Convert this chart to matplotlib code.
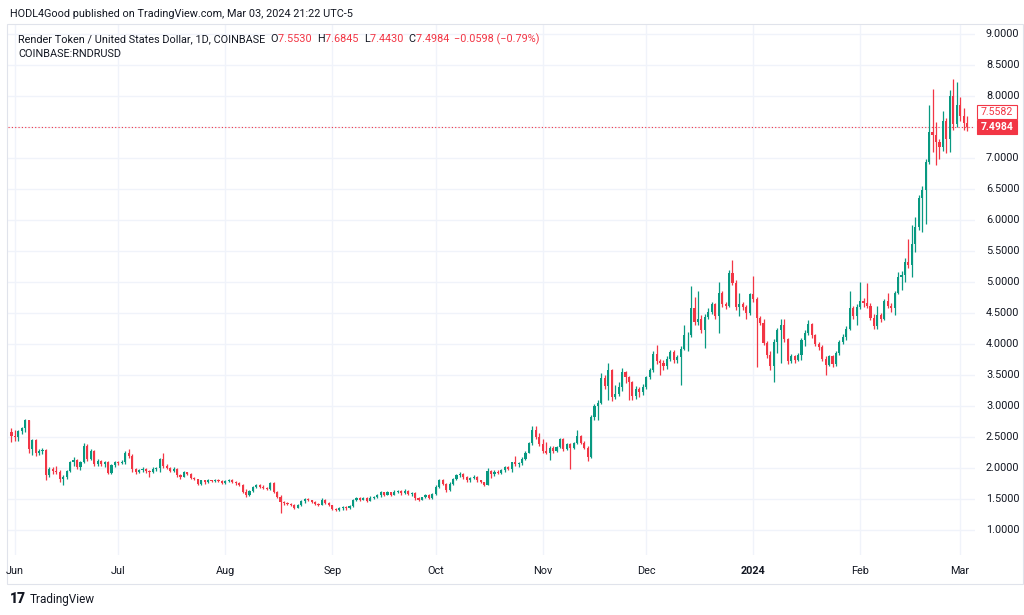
import matplotlib
matplotlib.use("Agg")
import matplotlib.pyplot as plt
from matplotlib.patches import Rectangle

plt.rcParams['font.family'] = ['Roboto', 'DejaVu Sans']

# daily RNDR/USD candles, May 31 2023 -> Mar 03 2024 (opens = previous close)
first_open = 2.58
closes = [
    2.52, 2.50, 2.59, 2.64, 2.77, 2.30, 2.45, 2.24, 2.28, 2.29,
    1.88, 1.98, 1.95, 1.93, 1.82, 1.85, 1.95, 2.10, 2.13, 2.02,
    2.10, 2.36, 2.15, 2.28, 2.06, 2.12, 2.07, 2.10, 1.92, 2.05,
    2.10, 2.08, 2.10, 2.24, 2.20, 1.98, 1.94, 1.96, 1.99, 1.95,
    1.94, 1.99, 2.00, 2.14, 2.03, 2.00, 1.95, 1.99, 1.88, 1.86,
    1.93, 1.91, 1.84, 1.82, 1.74, 1.80, 1.77, 1.80, 1.79, 1.81,
    1.79, 1.76, 1.79, 1.81, 1.78, 1.76, 1.73, 1.62, 1.56, 1.63,
    1.69, 1.72, 1.70, 1.68, 1.66, 1.76, 1.61, 1.54, 1.45, 1.43,
    1.42, 1.41, 1.36, 1.40, 1.46, 1.50, 1.48, 1.45, 1.42, 1.41,
    1.49, 1.44, 1.40, 1.34, 1.32, 1.35, 1.37, 1.35, 1.38, 1.48,
    1.51, 1.49, 1.51, 1.47, 1.52, 1.53, 1.56, 1.61, 1.57, 1.61,
    1.57, 1.62, 1.63, 1.59, 1.63, 1.58, 1.60, 1.51, 1.49, 1.53,
    1.56, 1.52, 1.58, 1.70, 1.80, 1.74, 1.65, 1.75, 1.82, 1.88,
    1.90, 1.85, 1.80, 1.84, 1.86, 1.80, 1.77, 1.73, 1.95, 1.90,
    1.94, 1.92, 1.96, 2.02, 1.99, 2.09, 2.06, 2.08, 2.15, 2.25,
    2.40, 2.62, 2.50, 2.38, 2.27, 2.25, 2.32, 2.28, 2.34, 2.46,
    2.31, 2.38, 2.32, 2.40, 2.52, 2.41, 2.33, 2.17, 2.82, 3.00,
    3.05, 3.45, 3.32, 3.58, 3.15, 3.20, 3.30, 3.55, 3.46, 3.38,
    3.16, 3.28, 3.22, 3.31, 3.47, 3.58, 3.84, 3.73, 3.70, 3.64,
    3.76, 3.87, 3.74, 3.79, 3.92, 4.14, 4.15, 4.58, 4.36, 4.40,
    4.22, 4.43, 4.52, 4.64, 4.45, 4.82, 4.64, 4.62, 5.15, 4.98,
    4.60, 4.64, 4.60, 4.50, 4.80, 4.72, 4.42, 4.34, 4.02, 3.83,
    3.64, 4.04, 4.22, 4.30, 4.08, 3.72, 3.80, 3.75, 3.82, 4.06,
    4.18, 4.32, 4.14, 4.00, 3.95, 3.76, 3.66, 3.80, 3.68, 3.86,
    4.03, 4.12, 4.25, 4.58, 4.45, 4.60, 4.70, 4.66, 4.62, 4.42,
    4.29, 4.46, 4.41, 4.70, 4.62, 4.58, 4.82, 5.08, 5.12, 5.33,
    5.28, 5.62, 5.88, 6.35, 6.48, 6.94, 7.42, 7.37, 7.25, 7.18,
    7.60, 7.30, 8.00, 7.55, 7.85, 7.68, 7.5582, 7.4984,
]
highs = [
    2.64, 2.62, 2.61, 2.66, 2.79, 2.78, 2.47, 2.46, 2.31, 2.32,
    2.31, 2.01, 2.02, 2.04, 1.96, 1.88, 1.97, 2.12, 2.17, 2.15,
    2.12, 2.41, 2.38, 2.30, 2.29, 2.14, 2.13, 2.12, 2.11, 2.06,
    2.12, 2.12, 2.13, 2.27, 2.30, 2.22, 2.00, 1.99, 2.01, 2.00,
    1.97, 2.01, 2.02, 2.16, 2.24, 2.06, 2.02, 2.01, 2.00, 1.90,
    1.95, 1.94, 1.92, 1.86, 1.83, 1.81, 1.81, 1.82, 1.81, 1.83,
    1.82, 1.80, 1.81, 1.83, 1.82, 1.79, 1.77, 1.74, 1.66, 1.65,
    1.71, 1.74, 1.74, 1.72, 1.70, 1.78, 1.77, 1.63, 1.56, 1.47,
    1.45, 1.44, 1.42, 1.42, 1.48, 1.52, 1.52, 1.49, 1.46, 1.44,
    1.51, 1.50, 1.45, 1.41, 1.36, 1.37, 1.39, 1.38, 1.40, 1.50,
    1.53, 1.53, 1.53, 1.54, 1.55, 1.55, 1.58, 1.63, 1.62, 1.63,
    1.62, 1.64, 1.65, 1.65, 1.66, 1.64, 1.62, 1.61, 1.53, 1.54,
    1.58, 1.58, 1.60, 1.72, 1.83, 1.83, 1.76, 1.77, 1.84, 1.91,
    1.93, 1.92, 1.87, 1.86, 1.88, 1.87, 1.81, 1.78, 2.00, 1.97,
    1.96, 1.96, 1.98, 2.04, 2.04, 2.10, 2.19, 2.10, 2.17, 2.27,
    2.42, 2.67, 2.68, 2.56, 2.46, 2.42, 2.35, 2.35, 2.36, 2.49,
    2.49, 2.40, 2.40, 2.42, 2.62, 2.54, 2.43, 2.35, 2.86, 3.04,
    3.10, 3.53, 3.50, 3.70, 3.60, 3.34, 3.38, 3.62, 3.57, 3.49,
    3.40, 3.32, 3.30, 3.35, 3.49, 3.62, 3.89, 3.99, 3.76, 3.74,
    3.80, 3.91, 3.90, 3.82, 3.96, 4.31, 4.20, 4.93, 4.75, 4.85,
    4.46, 4.48, 4.58, 4.68, 4.66, 5.00, 4.85, 4.68, 5.19, 5.35,
    5.03, 4.82, 4.68, 4.63, 4.83, 5.09, 4.76, 4.45, 4.40, 4.05,
    3.88, 4.08, 4.26, 4.40, 4.40, 4.10, 3.84, 3.83, 3.86, 4.09,
    4.22, 4.38, 4.34, 4.16, 4.03, 3.98, 3.80, 3.83, 3.82, 3.89,
    4.06, 4.16, 4.29, 4.85, 4.62, 4.64, 5.00, 4.74, 4.98, 4.66,
    4.49, 4.62, 4.50, 4.73, 4.82, 4.66, 4.86, 5.16, 5.18, 5.38,
    5.70, 5.92, 6.05, 6.40, 6.55, 6.98, 7.85, 8.12, 7.58, 7.30,
    7.75, 7.65, 8.09, 8.28, 8.22, 7.99, 7.80, 7.6845,
]
lows = [
    2.42, 2.44, 2.44, 2.55, 2.58, 2.25, 2.21, 2.20, 2.21, 2.22,
    1.80, 1.85, 1.91, 1.90, 1.78, 1.72, 1.82, 1.93, 2.03, 1.99,
    1.97, 2.08, 2.12, 2.13, 2.03, 2.04, 2.04, 2.01, 1.90, 1.90,
    2.02, 2.05, 2.06, 2.07, 2.16, 1.93, 1.91, 1.92, 1.94, 1.92,
    1.85, 1.92, 1.95, 1.94, 2.00, 1.98, 1.93, 1.93, 1.86, 1.83,
    1.85, 1.89, 1.82, 1.80, 1.72, 1.73, 1.75, 1.76, 1.77, 1.78,
    1.77, 1.74, 1.74, 1.77, 1.76, 1.73, 1.71, 1.60, 1.53, 1.55,
    1.62, 1.67, 1.68, 1.66, 1.64, 1.65, 1.59, 1.52, 1.27, 1.41,
    1.40, 1.39, 1.34, 1.35, 1.38, 1.44, 1.46, 1.43, 1.40, 1.39,
    1.40, 1.42, 1.38, 1.32, 1.30, 1.31, 1.33, 1.33, 1.34, 1.37,
    1.46, 1.47, 1.48, 1.45, 1.46, 1.50, 1.51, 1.54, 1.55, 1.56,
    1.55, 1.56, 1.60, 1.57, 1.58, 1.56, 1.55, 1.49, 1.47, 1.48,
    1.51, 1.50, 1.50, 1.56, 1.68, 1.72, 1.62, 1.63, 1.73, 1.80,
    1.86, 1.83, 1.78, 1.78, 1.82, 1.78, 1.76, 1.71, 1.72, 1.84,
    1.87, 1.90, 1.90, 1.94, 1.96, 1.94, 2.04, 2.01, 2.05, 2.13,
    2.24, 2.37, 2.47, 2.35, 2.25, 2.22, 2.13, 2.25, 2.26, 2.32,
    2.28, 2.29, 1.99, 2.30, 2.38, 2.38, 2.30, 2.12, 2.16, 2.78,
    2.78, 3.03, 3.28, 3.10, 3.08, 3.12, 3.16, 3.25, 3.37, 3.10,
    3.09, 3.12, 3.14, 3.18, 3.28, 3.44, 3.55, 3.68, 3.50, 3.58,
    3.60, 3.72, 3.70, 3.70, 3.34, 3.90, 3.88, 4.12, 4.30, 4.30,
    4.18, 3.93, 4.40, 4.48, 4.40, 4.17, 4.60, 4.56, 4.60, 4.95,
    4.55, 4.45, 4.55, 4.40, 4.47, 4.68, 3.63, 4.30, 3.98, 3.78,
    3.58, 3.39, 3.85, 3.70, 4.04, 3.68, 3.69, 3.70, 3.72, 3.74,
    3.96, 4.15, 4.10, 3.96, 3.90, 3.72, 3.50, 3.64, 3.63, 3.65,
    3.83, 4.00, 4.06, 4.22, 4.40, 4.30, 4.56, 4.60, 4.58, 4.38,
    4.25, 4.24, 4.36, 4.39, 4.58, 4.52, 4.47, 4.80, 4.87, 5.00,
    5.22, 5.08, 5.49, 5.84, 5.80, 5.94, 6.90, 7.10, 6.89, 6.99,
    7.12, 7.08, 7.10, 7.45, 7.50, 7.60, 7.45, 7.443,
]

month_labels = ["Jun", "Jul", "Aug", "Sep", "Oct", "Nov", "Dec", "2024", "Feb", "Mar"]
month_starts = [1, 31, 62, 93, 123, 154, 184, 215, 246, 275]
price_ticks = [1.0, 1.5, 2.0, 2.5, 3.0, 3.5, 4.0, 4.5, 5.0, 5.5, 6.0, 6.5, 7.0, 7.5, 8.0, 8.5, 9.0]

legend_parts = [
    ("Render Token / United States Dollar, 1D, COINBASE  ", "#131722"),
    ("O", "#131722"), ("7.5530  ", "#f23645"),
    ("H", "#131722"), ("7.6845  ", "#f23645"),
    ("L", "#131722"), ("7.4430  ", "#f23645"),
    ("C", "#131722"), ("7.4984  ", "#f23645"),
    ("\u22120.0598 (\u22120.79%)", "#f23645"),
]
prev_close = 7.5582
last_close = closes[-1]

UP = "#089981"
DOWN = "#f23645"
GRID = "#f0f3fa"
TXT = "#131722"

W, H = 1024, 615
fig = plt.figure(figsize=(W / 100, H / 100), dpi=100)
fig.patch.set_facecolor("white")

# chart pane in pixel coords
L, R, T, B = 8, 975, 24, 555
YMIN, YMAX = 0.597, 9.161
ax = fig.add_axes([L / W, 1 - B / H, (R - L) / W, (B - T) / H])
ax.set_xlim(-1.0, 279.3)
ax.set_ylim(YMIN, YMAX)

opens = [first_open] + closes[:-1]
xs = list(range(len(closes)))
cols = [UP if c >= o else DOWN for o, c in zip(opens, closes)]
bottoms = [min(o, c) for o, c in zip(opens, closes)]
heights = [max(abs(c - o), 0.012) for o, c in zip(opens, closes)]

for y in price_ticks:
    ax.axhline(y, color=GRID, lw=1, zorder=0)
for m in month_starts:
    ax.axvline(m, color=GRID, lw=1, zorder=0)

ax.vlines(xs, lows, highs, colors=cols, lw=0.9, zorder=2)
ax.bar(xs, heights, bottom=bottoms, width=0.62, color=cols, lw=0, zorder=3)

ax.axhline(last_close, color=DOWN, lw=0.8, ls=(0, (1, 2)), zorder=1)

for s in ax.spines.values():
    s.set_visible(False)
ax.set_xticks([])
ax.set_yticks([])


def price_to_px(p):
    return T + (YMAX - p) / (YMAX - YMIN) * (B - T)


def px_to_fig(x, y):
    return x / W, 1 - y / H


y_last = price_to_px(last_close)

# price scale (the 7.5 label sits under the last-price tag)
for y in price_ticks:
    yp = price_to_px(y)
    if abs(yp - y_last) < 12:
        continue
    fig.text(*px_to_fig(986, yp), f"{y:.4f}", fontsize=7.8, color=TXT,
             ha="left", va="center")

# last price / previous close tags
fig.patches.append(Rectangle(px_to_fig(977, y_last + 7), 40 / W, 14 / H,
                             transform=fig.transFigure, facecolor=DOWN,
                             edgecolor=DOWN, lw=0.8))
fig.text(*px_to_fig(997, y_last), f"{last_close:.4f}", fontsize=7.6,
         color="white", ha="center", va="center", fontweight="bold")
fig.patches.append(Rectangle(px_to_fig(977, y_last - 8), 40 / W, 14 / H,
                             transform=fig.transFigure, facecolor="white",
                             edgecolor=DOWN, lw=0.8))
fig.text(*px_to_fig(997, y_last - 15), f"{prev_close:.4f}", fontsize=7.6,
         color=DOWN, ha="center", va="center")

# time scale
for m, lab in zip(month_starts, month_labels):
    xp = L + (m + 1.0) / 280.3 * (R - L)
    fig.text(*px_to_fig(xp, 571), lab, fontsize=7.8, color=TXT, ha="center",
             va="center", fontweight="bold" if lab == "2024" else "normal")

# frame
frame = Rectangle(px_to_fig(7, 584), 1016 / W, 560 / H, transform=fig.transFigure,
                  fill=False, edgecolor="#e0e3eb", lw=0.8)
fig.patches.append(frame)

# header texts
fig.text(*px_to_fig(10, 14), "HODL4Good published on TradingView.com, Mar 03, 2024 21:22 UTC-5",
         fontsize=7.8, color=TXT, va="center")

renderer = fig.canvas.get_renderer()
xpos = 18
for txt, c in legend_parts:
    t = fig.text(*px_to_fig(xpos, 39), txt, fontsize=7.85, color=c, va="center")
    xpos += t.get_window_extent(renderer).width
fig.text(*px_to_fig(18, 54), "COINBASE:RNDRUSD", fontsize=7.85, color=TXT, va="center")

# footer
fig.text(*px_to_fig(10, 599), "17", fontsize=10, fontweight="heavy", color=TXT, va="center")
fig.text(*px_to_fig(30, 599), "TradingView", fontsize=8.5, color=TXT, va="center")

fig.savefig("out.png", dpi=100)
